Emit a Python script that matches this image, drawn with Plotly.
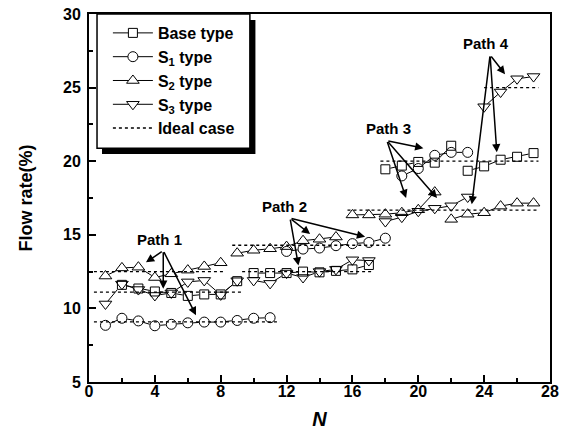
import plotly.graph_objects as go

# ---------------- data ----------------
base_N = [2, 3, 4, 5, 6, 7, 8, 9, None, 10, 11, 12, 13, 14, 15, 16, 17, None,
          18, 19, 20, 21, 22, None, 23, 24, 25, 26, 27]
base_v = [11.6, 11.35, 11.15, 11.05, 10.85, 10.95, 10.95, 11.85, None,
          12.4, 12.4, 12.4, 12.5, 12.45, 12.55, 12.65, 12.95, None,
          19.45, 19.7, 19.95, 19.9, 21.05, None, 19.35, 19.65, 20.1, 20.3, 20.55]

s1_N = [1, 2, 3, 4, 5, 6, 7, 8, 9, 10, 11, None, 12, 13, 14, 15, 16, 17, 18, None,
        19, 20, 21, 22, 23]
s1_v = [8.85, 9.33, 9.15, 8.82, 8.92, 9.02, 9.07, 9.07, 9.18, 9.33, 9.37, None,
        13.87, 14.03, 14.1, 14.26, 14.4, 14.48, 14.77, None,
        19.0, 19.5, 20.4, 20.6, 20.6]

s2_N = [1, 2, 3, 4, 5, 6, 7, 8, None, 9, 10, 11, 12, 13, 14, 15, None,
        16, 17, 18, 19, 20, 21, None, 22, 23, 24, 25, 26, 27]
s2_v = [12.2, 12.75, 12.8, 12.1, 12.35, 12.6, 12.85, 13.1, None,
        13.75, 13.95, 14.05, 14.2, 14.6, 14.7, 14.85, None,
        16.35, 16.35, 16.4, 16.5, 16.7, 17.9, None,
        16.05, 16.4, 16.5, 16.95, 17.15, 17.15]

s3_N = [1, 2, 3, 4, 5, 6, 7, 8, 9, None, 10, 11, 12, 13, 14, 15, 16, 17, None,
        18, 19, 20, 21, 22, 23, None, 24, 25, 26, 27]
s3_v = [10.3, 11.65, 11.28, 10.88, 11.05, 11.8, 11.9, 10.92, 11.88, None,
        11.9, 11.7, 12.4, 12.1, 12.5, 12.65, 13.3, 13.25, None,
        15.9, 16.2, 16.6, 16.8, 16.97, 17.57, None,
        23.7, 24.7, 25.6, 25.75]

ideal_value = [9.09, 11.11, 12.5, 12.5, 14.29, 16.67, 20.0, 25.0]
ideal_start = [0.3, 0.3, 0.3, 9.3, 8.7, 15.7, 17.7, 24.0]
ideal_end = [11.6, 9.3, 8.2, 17.3, 18.3, 27.3, 27.3, 27.3]

series_names = ["Base type", "S<sub>1</sub> type", "S<sub>2</sub> type", "S<sub>3</sub> type"]
series_symbols = ["square", "circle", "triangle-up", "triangle-down"]
series_sizes = [9, 10, 11, 11]

# annotation arrows: label, label position, tail (common origin), heads
path_labels = ["Path 1", "Path 2", "Path 3", "Path 4"]
path_label_pos = [(4.3, 14.7), (11.9, 16.9), (18.2, 22.2), (24.1, 28.0)]
path_tail = [(4.51, 13.92), (12.21, 16.13), (18.09, 21.4), (24.36, 27.21)]
path_heads = [
    [(3.46, 13.13), (4.51, 11.33), (6.5, 9.53)],
    [(13.43, 15.05), (16.77, 14.86), (12.72, 12.91)],
    [(20.31, 20.88), (19.26, 17.5), (21.14, 17.5)],
    [(25.27, 25.91), (23.25, 17.07), (24.77, 20.6)],
]

FONT = "Liberation Sans"
fig = go.Figure()

all_N = [base_N, s1_N, s2_N, s3_N]
all_v = [base_v, s1_v, s2_v, s3_v]

# connecting lines
for xs, ys in zip(all_N, all_v):
    fig.add_trace(go.Scatter(x=xs, y=ys, mode="lines", line=dict(color="black", width=1),
                             showlegend=False, hoverinfo="skip"))
# white masks under markers
for xs, ys, sym, sz in zip(all_N, all_v, series_symbols, series_sizes):
    fig.add_trace(go.Scatter(x=xs, y=ys, mode="markers",
                             marker=dict(symbol=sym, size=sz + 1, color="white", line=dict(width=0)),
                             showlegend=False, hoverinfo="skip"))
# marker outlines
for xs, ys, sym, sz in zip(all_N, all_v, series_symbols, series_sizes):
    fig.add_trace(go.Scatter(x=xs, y=ys, mode="markers",
                             marker=dict(symbol=sym + "-open", size=sz, color="black",
                                         line=dict(color="black", width=1)),
                             showlegend=False, hoverinfo="skip"))

# ideal dashed segments
ix, iy = [], []
for s, e, v in zip(ideal_start, ideal_end, ideal_value):
    ix += [s, e, None]
    iy += [v, v, None]
fig.add_trace(go.Scatter(x=ix, y=iy, mode="lines", line=dict(color="black", width=1.3, dash="3px,3px"),
                         showlegend=False, hoverinfo="skip"))

# legend entries
for name, sym, sz in zip(series_names, series_symbols, series_sizes):
    fig.add_trace(go.Scatter(x=[None], y=[None], mode="lines+markers", name="<b>%s</b>" % name,
                             line=dict(color="black", width=1),
                             marker=dict(symbol=sym, size=sz, color="white",
                                         line=dict(color="black", width=1))))
fig.add_trace(go.Scatter(x=[None], y=[None], mode="lines", name="<b>Ideal case</b>",
                         line=dict(color="black", width=1.5, dash="3px,3px")))

# path annotations
for lab, (lx, ly), (tx, ty), heads in zip(path_labels, path_label_pos, path_tail, path_heads):
    fig.add_annotation(x=lx, y=ly, text="<b>%s</b>" % lab, showarrow=False,
                       font=dict(family=FONT, size=15, color="black"))
    for hx, hy in heads:
        fig.add_annotation(x=hx, y=hy, ax=tx, ay=ty, axref="x", ayref="y", xref="x", yref="y",
                           text="", showarrow=True, arrowhead=2, arrowsize=1.1,
                           arrowwidth=1.5, arrowcolor="black")

# legend frame with drop shadow
fig.add_shape(type="rect", xref="paper", yref="paper", x0=0.0282, x1=0.361, y0=0.6196, y1=0.9837,
              fillcolor="black", line=dict(width=0), layer="above")
fig.add_shape(type="rect", xref="paper", yref="paper", x0=0.0174, x1=0.349, y0=0.635, y1=1.0,
              fillcolor="white", line=dict(color="black", width=1.5), layer="above")

axis_common = dict(showline=True, linecolor="black", linewidth=2, mirror=True, showgrid=False,
                   zeroline=False, ticks="inside", ticklen=7, tickwidth=1.5, tickcolor="black",
                   automargin=False, ticklabeloverflow="allow",
                   tickfont=dict(family=FONT, size=16, color="black"))
fig.update_xaxes(range=[0, 28], dtick=4, tick0=0,
                 minor=dict(dtick=2, ticks="inside", ticklen=4, tickwidth=1.5, tickcolor="black"),
                 title=dict(text="<b><i>N</i></b>", font=dict(family=FONT, size=20, color="black"),
                            standoff=13),
                 tickprefix="<b>", ticksuffix="</b>", ticklabelstandoff=-6, **axis_common)
fig.update_yaxes(range=[5, 30], dtick=5, tick0=5,
                 minor=dict(dtick=2.5, ticks="inside", ticklen=4, tickwidth=1.5, tickcolor="black"),
                 title=dict(text="<b>Flow rate(%)</b>", font=dict(family=FONT, size=18, color="black"),
                            standoff=26),
                 tickprefix="<b>", ticksuffix="</b>", ticklabelstandoff=3, **axis_common)

fig.update_layout(
    width=570, height=442,
    margin=dict(l=89, r=20, t=14, b=60),
    paper_bgcolor="white", plot_bgcolor="white",
    legend=dict(x=0.041, y=0.9946, xanchor="left", yanchor="top",
                bgcolor="rgba(0,0,0,0)", borderwidth=0,
                font=dict(family=FONT, size=16, color="black"),
                tracegroupgap=0, itemwidth=40),
    showlegend=True,
)

# remove the default 8px page margin so the figure fills the window exactly
fig.write_html("out.html", config={"displayModeBar": False},
               post_script="document.body.style.margin='0px';")
